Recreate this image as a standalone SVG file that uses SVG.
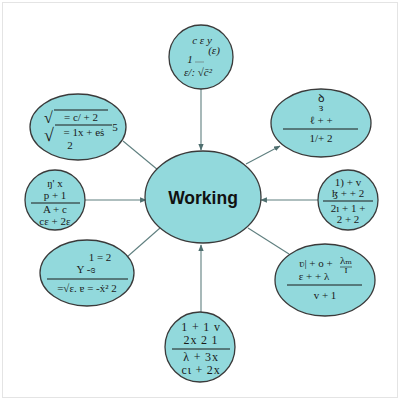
<svg xmlns="http://www.w3.org/2000/svg" width="400" height="400" viewBox="0 0 400 400">
<defs>
<style>
.n{fill:#92d9dc;stroke:#3a3a3a;stroke-width:1.3}
.t{font-family:"Liberation Serif","DejaVu Serif",serif;font-size:11px;fill:#1a1a1a;text-anchor:middle}
.b{font-size:12px;letter-spacing:0.8px}
.fl{stroke:#1a1a1a;stroke-width:1}
.c{stroke:#5f7f7f;stroke-width:1.1;fill:none}
</style>
<marker id="ah" viewBox="0 0 10 10" refX="9" refY="5" markerWidth="6" markerHeight="6" orient="auto">
<path d="M0,1 L10,5 L0,9 z" fill="#4f6f6f"/>
</marker>
</defs>
<rect x="0" y="0" width="400" height="400" fill="#ffffff"/>
<rect x="2.5" y="2.5" width="395" height="395" fill="none" stroke="#e4e4e4" stroke-width="1"/>
<g id="connectors">
<line class="c" x1="201" y1="89" x2="201" y2="150" marker-end="url(#ah)"/>
<line class="c" x1="123" y1="141" x2="158" y2="170"/>
<line class="c" x1="246" y1="164" x2="280" y2="146" marker-end="url(#ah)"/>
<line class="c" x1="85" y1="200" x2="146" y2="200" marker-end="url(#ah)"/>
<line class="c" x1="318" y1="200" x2="261" y2="200" marker-end="url(#ah)"/>
<line class="c" x1="127" y1="257" x2="160" y2="228"/>
<line class="c" x1="248" y1="228" x2="289" y2="254"/>
<line class="c" x1="201" y1="312" x2="201" y2="245" marker-end="url(#ah)"/>
</g>
<g id="center">
<ellipse class="n" cx="203" cy="197" rx="58" ry="46"/>
<text x="203" y="204" font-family="Liberation Sans,Arial,sans-serif" font-weight="bold" font-size="17.5" text-anchor="middle" fill="#111">Working</text>
</g>
<g id="top">
<circle class="n" cx="201" cy="57" r="32"/>
<text class="t" x="202" y="44" font-style="italic">c ε y</text>
<text class="t" x="214" y="54" font-style="italic">(ε)</text>
<text class="t" x="190" y="63" font-style="italic">1</text>
<line x1="195" y1="62" x2="204" y2="62" stroke="#666" stroke-width="0.6"/>
<text class="t" x="198" y="76" font-style="italic">ε/: √c̄²</text>
</g>
<g id="upper-left">
<ellipse class="n" cx="78" cy="127" rx="48" ry="33"/>
<text x="44" y="123" font-family="Liberation Serif,serif" font-size="16" fill="#1a1a1a">√</text>
<line class="fl" x1="54" y1="110" x2="108" y2="110"/>
<text class="t" x="81" y="121">= c/ + 2</text>
<text x="44" y="141" font-family="Liberation Serif,serif" font-size="18" fill="#1a1a1a">√</text>
<line class="fl" x1="55" y1="125" x2="112" y2="125"/>
<text class="t" x="84" y="136">= 1x + eṡ</text>
<text class="t" x="115" y="131" font-size="6">5</text>
<text class="t" x="70" y="149">2</text>
</g>
<g id="upper-right">
<ellipse class="n" cx="321" cy="123" rx="50" ry="34"/>
<text class="t" x="321" y="102" font-size="6">ꝺ</text>
<text class="t" x="321" y="111" font-size="6">ɜ</text>
<text class="t" x="321" y="124">ℓ + +</text>
<line class="fl" x1="283" y1="129" x2="358" y2="129"/>
<text class="t" x="321" y="142">1/+ 2</text>
</g>
<g id="left">
<circle class="n" cx="55" cy="200" r="30"/>
<text class="t" x="55" y="187">ŋ' x</text>
<text class="t" x="55" y="199">p + 1</text>
<line class="fl" x1="31" y1="203" x2="80" y2="203"/>
<text class="t" x="55" y="213">A + c</text>
<text class="t" x="55" y="225">cɛ + 2ɛ</text>
</g>
<g id="right">
<circle class="n" cx="348" cy="200" r="30"/>
<text class="t" x="348" y="186">1) + v</text>
<text class="t" x="348" y="197">ɮ + + 2</text>
<line class="fl" x1="323" y1="201" x2="373" y2="201"/>
<text class="t" x="348" y="212">2ı + 1 +</text>
<text class="t" x="348" y="223">2 + 2</text>
</g>
<g id="lower-left">
<ellipse class="n" cx="87" cy="273" rx="47" ry="33"/>
<text class="t" x="100" y="261">1 = 2</text>
<text class="t" x="86" y="273">Y -ɞ</text>
<line class="fl" x1="47" y1="279" x2="128" y2="279"/>
<text class="t" x="87" y="292">=√ε. ɐ = -ẋ² 2</text>
</g>
<g id="lower-right">
<ellipse class="n" cx="325" cy="280" rx="50" ry="36"/>
<text class="t" x="316" y="267">ʋ| + o +</text>
<text class="t" x="346" y="264" font-size="8">λₘ</text>
<line x1="340" y1="267" x2="352" y2="267" stroke="#1a1a1a" stroke-width="0.6"/>
<text class="t" x="346" y="273" font-size="6">ɪ</text>
<text class="t" x="314" y="280">ε + + λ</text>
<line class="fl" x1="287" y1="285" x2="362" y2="285"/>
<text class="t" x="325" y="299">v + 1</text>
</g>
<g id="bottom">
<circle class="n" cx="200" cy="347" r="35"/>
<text class="t b" x="201" y="331">1 + 1 v</text>
<text class="t b" x="201" y="344">2x 2 1</text>
<line class="fl" x1="172" y1="349" x2="230" y2="349"/>
<text class="t b" x="201" y="361">λ + 3x</text>
<text class="t b" x="201" y="374">cι + 2x</text>
</g>
</svg>
